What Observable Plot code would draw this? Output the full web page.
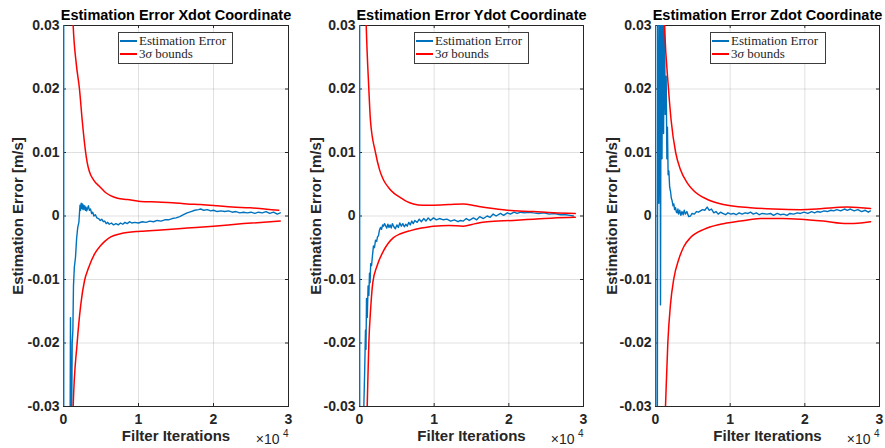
<!DOCTYPE html>
<html><head><meta charset="utf-8">
<script src="https://cdn.jsdelivr.net/npm/d3@7"></script>
<script src="https://cdn.jsdelivr.net/npm/@observablehq/plot@0.6"></script>
<style>
body{margin:0;background:#fff;}
#chart{position:relative;width:885px;height:448px;overflow:hidden;background:#fff;}
.panel{position:absolute;top:0;}
.legend{position:absolute;top:32px;height:32px;background:#fff;border:1px solid #3c3c3c;box-sizing:border-box;
  font-family:"Liberation Serif","Times New Roman",serif;font-size:13px;color:#262626;padding:1px 0 0 1px;}
.legend .row{display:flex;align-items:center;height:13.5px;white-space:nowrap;}
.legend .sw{display:inline-block;width:17px;height:2px;margin-right:2px;}
</style></head>
<body><div id="chart"></div>
<script>
// ---- data ----
const titles = ["Estimation Error Xdot Coordinate", "Estimation Error Ydot Coordinate", "Estimation Error Zdot Coordinate"];
const yLabel = "Estimation Error [m/s]";
const xLabel = "Filter Iterations";
const legendLabels = ["Estimation Error", "3σ bounds"];
const xTicks = [0, 10000, 20000, 30000];
const yTicks = [-0.03, -0.02, -0.01, 0, 0.01, 0.02, 0.03];

// [iteration, value]
const xdotError = [[0,0.30],[60,-0.30],[880,-0.034],[930,-0.016],[990,-0.030],[1080,-0.033],[1160,-0.020],[1250,-0.018],[1330,-0.011],[1450,-0.008],[1600,-0.0065],[1750,-0.0035],[1900,-0.0018],[2050,-0.0010],[2200,0.0017],[2280,0.0009],[2360,0.0020],[2440,0.0012],[2520,0.0019],[2600,0.0010],[2680,0.0017],[2760,0.0011],[2840,0.0016],[2920,0.0009],[3000,0.0014],[3100,0.0008],[3200,0.0012],[3330,0.0016],[3450,0.0009],[3600,0.0011],[3750,0.0004],[3900,0.0006],[4050,0.0000],[4250,0.0002],[4450,-0.0003],[4670,-0.0004],[4900,-0.0007],[5100,-0.0005],[5300,-0.0009],[5500,-0.0008],[5700,-0.0012],[5900,-0.0010],[6100,-0.0013],[6400,-0.0011],[6670,-0.0014],[7000,-0.0012],[7300,-0.0014],[7600,-0.0011],[7900,-0.0013],[8200,-0.0010],[8500,-0.0012],[8800,-0.0009],[9100,-0.0011],[9500,-0.0010],[10000,-0.0011],[10500,-0.0009],[11000,-0.0010],[11500,-0.0008],[12000,-0.0009],[12500,-0.0007],[13000,-0.0008],[13500,-0.0006],[14000,-0.0006],[14500,-0.0004],[15000,-0.0003],[15500,-0.0001],[16000,0.0002],[16500,0.0005],[17000,0.0007],[17500,0.0009],[18000,0.0010],[18300,0.0011],[18700,0.0009],[19200,0.0010],[19600,0.0008],[20000,0.0009],[20500,0.0007],[21000,0.0008],[21500,0.0007],[22000,0.0008],[22500,0.0006],[23000,0.0007],[23500,0.0005],[24000,0.0006],[24500,0.0005],[25000,0.0006],[25500,0.0004],[26000,0.0006],[26500,0.0005],[27000,0.0007],[27500,0.0004],[28000,0.0006],[28500,0.0003],[28900,0.0005]];
const xdotUpper = [[1000,0.040],[1290,0.030],[1700,0.024],[2130,0.020],[2500,0.015],[2900,0.0105],[3150,0.0085],[3450,0.0070],[4000,0.0057],[4930,0.0045],[5600,0.0037],[6270,0.0032],[7200,0.0028],[8530,0.0026],[10270,0.0023],[12500,0.0022],[14500,0.0021],[16500,0.0019],[18270,0.0018],[20500,0.0016],[22500,0.0014],[24900,0.0013],[26800,0.0011],[28700,0.0009]];
const xdotLower = [[1000,-0.045],[1290,-0.030],[1820,-0.020],[2300,-0.014],[2800,-0.0102],[3330,-0.0082],[4130,-0.0060],[4930,-0.0047],[5500,-0.0040],[6300,-0.0033],[7600,-0.0028],[10270,-0.0024],[13000,-0.0022],[16500,-0.0019],[20000,-0.0016],[24000,-0.0012],[28900,-0.0008]];

const ydotError = [[0,0.30],[50,-0.30],[400,-0.045],[540,-0.032],[700,-0.024],[800,-0.018],[870,-0.021],[940,-0.013],[1040,-0.016],[1150,-0.011],[1250,-0.0125],[1340,-0.009],[1420,-0.0105],[1500,-0.0075],[1620,-0.0078],[1740,-0.0062],[1870,-0.0047],[2000,-0.0050],[2150,-0.0038],[2300,-0.0040],[2410,-0.0033],[2540,-0.0031],[2680,-0.0022],[2810,-0.0018],[2950,-0.0021],[3100,-0.0014],[3210,-0.0016],[3350,-0.0012],[3480,-0.0015],[3650,-0.0019],[3800,-0.0013],[3950,-0.0018],[4100,-0.0014],[4250,-0.0019],[4400,-0.0012],[4600,-0.0017],[4800,-0.0020],[5000,-0.0014],[5200,-0.0018],[5400,-0.0011],[5600,-0.0016],[5800,-0.0012],[6000,-0.0017],[6200,-0.0013],[6390,-0.0016],[6600,-0.0010],[6800,-0.0014],[7000,-0.0008],[7200,-0.0012],[7400,-0.0007],[7720,-0.0010],[8000,-0.0005],[8300,-0.0009],[8600,-0.0004],[8900,-0.0008],[9200,-0.0003],[9500,-0.0007],[9910,-0.0003],[10300,-0.0006],[10700,-0.0004],[11240,-0.0006],[11700,-0.0005],[12200,-0.0008],[12700,-0.0006],[13200,-0.0009],[13520,-0.0007],[13900,-0.0008],[14300,-0.0004],[14700,-0.0007],[15260,-0.0003],[15700,-0.0006],[16100,-0.0001],[16600,-0.0004],[17100,0.0000],[17500,-0.0002],[17900,0.0003],[18300,0.0000],[18880,0.0004],[19300,0.0001],[19800,0.0005],[20200,0.0003],[20700,0.0006],[21110,0.0004],[21600,0.0006],[22100,0.0005],[22700,0.0006],[23290,0.0005],[24000,0.0004],[24700,0.0005],[25400,0.0003],[26100,0.0004],[26910,0.0002],[27600,0.0002],[28200,0.0001],[28650,0.0000]];
const ydotUpper = [[600,0.045],[900,0.030],[1250,0.020],[1470,0.015],[2140,0.010],[2680,0.0073],[3200,0.0057],[3880,0.0045],[4600,0.0036],[5490,0.0029],[6300,0.0023],[7230,0.0019],[8500,0.0017],[9900,0.0017],[12000,0.0018],[13920,0.0019],[15500,0.0016],[17100,0.0013],[19800,0.0009],[23300,0.0007],[25970,0.0005],[28900,0.0004]];
const ydotLower = [[700,-0.045],[1030,-0.030],[1250,-0.020],[1500,-0.0145],[1780,-0.0105],[2370,-0.0078],[3210,-0.0055],[4550,-0.0034],[5500,-0.0028],[6830,-0.0023],[8300,-0.0019],[9910,-0.0016],[12000,-0.0015],[13900,-0.0016],[15500,-0.0012],[17100,-0.0009],[20600,-0.0007],[23300,-0.0005],[26000,-0.0003],[28900,-0.0002]];

const zdotError = [[0,0.30],[40,-0.30],[310,0.045],[450,0.002],[600,0.038],[670,-0.014],[760,0.036],[870,0.009],[980,0.034],[1080,0.013],[1200,0.032],[1300,0.016],[1430,0.022],[1520,0.009],[1600,0.014],[1690,0.0065],[1790,0.0071],[1900,0.0045],[2010,0.0039],[2120,0.0028],[2230,0.0024],[2350,0.0016],[2450,0.0019],[2560,0.0010],[2680,0.0013],[2800,0.0006],[2900,0.0005],[3000,0.0011],[3100,0.0003],[3250,0.0009],[3400,0.0001],[3550,0.0007],[3700,0.0002],[3850,0.0009],[4000,0.0003],[4200,0.0007],[4450,-0.0001],[4690,0.0000],[4900,0.0004],[5200,0.0003],[5500,0.0007],[5750,0.0006],[6020,0.0008],[6300,0.0010],[6600,0.0009],[6920,0.0014],[7200,0.0009],[7500,0.0011],[7810,0.0005],[8100,0.0007],[8400,0.0003],[8700,0.0006],[9000,0.0004],[9400,0.0002],[9700,0.0005],[10100,0.0003],[10440,0.0004],[10800,0.0002],[11200,0.0005],[11600,0.0003],[12000,0.0005],[12400,0.0004],[12720,0.0006],[13100,0.0003],[13500,0.0005],[13900,0.0002],[14300,0.0004],[14950,0.0003],[15400,0.0004],[15800,0.0001],[16300,0.0004],[16700,0.0002],[17180,0.0003],[17600,0.0001],[18000,0.0004],[18500,0.0003],[19000,0.0005],[19400,0.0004],[19900,0.0006],[20400,0.0004],[20900,0.0007],[21300,0.0005],[21650,0.0007],[22100,0.0006],[22600,0.0008],[23000,0.0007],[23500,0.0009],[23870,0.0008],[24300,0.0010],[24800,0.0008],[25300,0.0011],[25700,0.0009],[26100,0.0011],[26600,0.0008],[27100,0.0010],[27600,0.0007],[28100,0.0009],[28500,0.0006],[28780,0.0008]];
const zdotUpper = [[800,0.045],[1200,0.030],[1740,0.020],[2100,0.015],[2700,0.010],[3350,0.0073],[4200,0.0053],[5090,0.0040],[6960,0.0026],[9100,0.0018],[12720,0.0013],[15800,0.0011],[19400,0.0010],[21600,0.0011],[23800,0.0013],[25700,0.0014],[27500,0.0013],[28800,0.0012]];
const zdotLower = [[900,-0.045],[1340,-0.030],[1650,-0.020],[2000,-0.014],[2450,-0.0099],[3120,-0.0068],[3800,-0.0048],[4690,-0.0034],[6470,-0.0021],[8700,-0.0013],[11380,-0.0008],[14060,-0.0004],[17000,-0.0004],[19400,-0.0005],[22500,-0.0008],[25660,-0.0012],[27500,-0.0011],[28800,-0.0009]];

// ---- layout ----
const blue = "#0072BD", red = "#FF0000", axisColor = "#262626";
const panels = [
  {left: 0,   width: 300, ml: 63, mr: 12, lx: -45, err: xdotError, up: xdotUpper, lo: xdotLower, legLeft: 118, legW: 115},
  {left: 300, width: 295, ml: 59, mr: 12, lx: -43, err: ydotError, up: ydotUpper, lo: ydotLower, legLeft: 414, legW: 115},
  {left: 595, width: 290, ml: 60, mr: 6,  lx: -43, err: zdotError, up: zdotUpper, lo: zdotLower, legLeft: 710, legW: 116}
];
const H = 448, MT = 25, MB = 42;
const chart = document.getElementById("chart");
const fmtY = d => d === 0 ? "0" : d.toFixed(2);
const X = d => d[0], Y = d => d[1];

panels.forEach((p, i) => {
  const plotW = p.width - p.ml - p.mr;
  const plotH = H - MT - MB;
  const svg = Plot.plot({
    width: p.width, height: H,
    marginLeft: p.ml, marginRight: p.mr, marginTop: MT, marginBottom: MB,
    style: {fontFamily: "'Liberation Sans', Arial, sans-serif", fontSize: "14px", fontWeight: "bold", color: axisColor, background: "transparent", overflow: "visible"},
    x: {domain: [0, 30000]},
    y: {domain: [-0.03, 0.03]},
    marks: [
      Plot.gridX(xTicks.slice(1, -1), {stroke: "#000", strokeOpacity: 0.12}),
      Plot.gridY(yTicks, {stroke: "#000", strokeOpacity: 0.12}),
      Plot.frame({stroke: axisColor, strokeWidth: 1}),
      Plot.tickX(xTicks, {x: d => d, insetTop: plotH - 3, stroke: axisColor}),
      Plot.tickX(xTicks, {x: d => d, insetBottom: plotH - 3, stroke: axisColor}),
      Plot.tickY(yTicks, {y: d => d, insetRight: plotW - 3, stroke: axisColor}),
      Plot.tickY(yTicks, {y: d => d, insetLeft: plotW - 3, stroke: axisColor}),
      Plot.line(p.err, {x: X, y: Y, stroke: blue, strokeWidth: 1.4, clip: true}),
      Plot.line(p.up, {x: X, y: Y, stroke: red, strokeWidth: 1.5, clip: true, curve: "monotone-x"}),
      Plot.line(p.lo, {x: X, y: Y, stroke: red, strokeWidth: 1.5, clip: true, curve: "monotone-x"}),
      Plot.axisX(xTicks, {tickSize: 0, tickPadding: 8, tickFormat: d => d / 1e4, label: null, fill: axisColor}),
      Plot.axisY(yTicks, {tickSize: 0, tickPadding: 4, tickFormat: fmtY, label: null, fill: axisColor}),
      Plot.text([titles[i]], {frameAnchor: "top", lineAnchor: "middle", dy: -10, fontSize: 14.5, fontWeight: "bold", fill: "#000"}),
      Plot.text([yLabel], {frameAnchor: "left", textAnchor: "middle", lineAnchor: "middle", dx: p.lx, rotate: -90, fontSize: 15, fontWeight: "bold", fill: axisColor}),
      Plot.text([xLabel], {frameAnchor: "bottom", lineAnchor: "middle", dy: 30, fontSize: 15, fontWeight: "bold", fill: axisColor}),
      Plot.text(["×10"], {frameAnchor: "bottom-right", lineAnchor: "middle", dx: -9, dy: 33, textAnchor: "end", fontSize: 14, fontWeight: "normal", fill: axisColor}),
      Plot.text(["4"], {frameAnchor: "bottom-right", lineAnchor: "middle", dx: 0, dy: 27, textAnchor: "end", fontSize: 10, fontWeight: "normal", fill: axisColor})
    ]
  });
  svg.classList.add("panel");
  svg.style.left = p.left + "px";
  chart.appendChild(svg);

  const leg = document.createElement("div");
  leg.className = "legend";
  leg.style.left = p.legLeft + "px";
  leg.style.width = p.legW + "px";
  const r1 = document.createElement("div"); r1.className = "row";
  const s1 = document.createElement("span"); s1.className = "sw"; s1.style.background = blue;
  r1.appendChild(s1); r1.appendChild(document.createTextNode(legendLabels[0]));
  const r2 = document.createElement("div"); r2.className = "row";
  const s2 = document.createElement("span"); s2.className = "sw"; s2.style.background = red;
  const t2 = document.createElement("span");
  t2.innerHTML = "3<i>σ</i> bounds";
  r2.appendChild(s2); r2.appendChild(t2);
  leg.appendChild(r1); leg.appendChild(r2);
  chart.appendChild(leg);
});
</script></body></html>
